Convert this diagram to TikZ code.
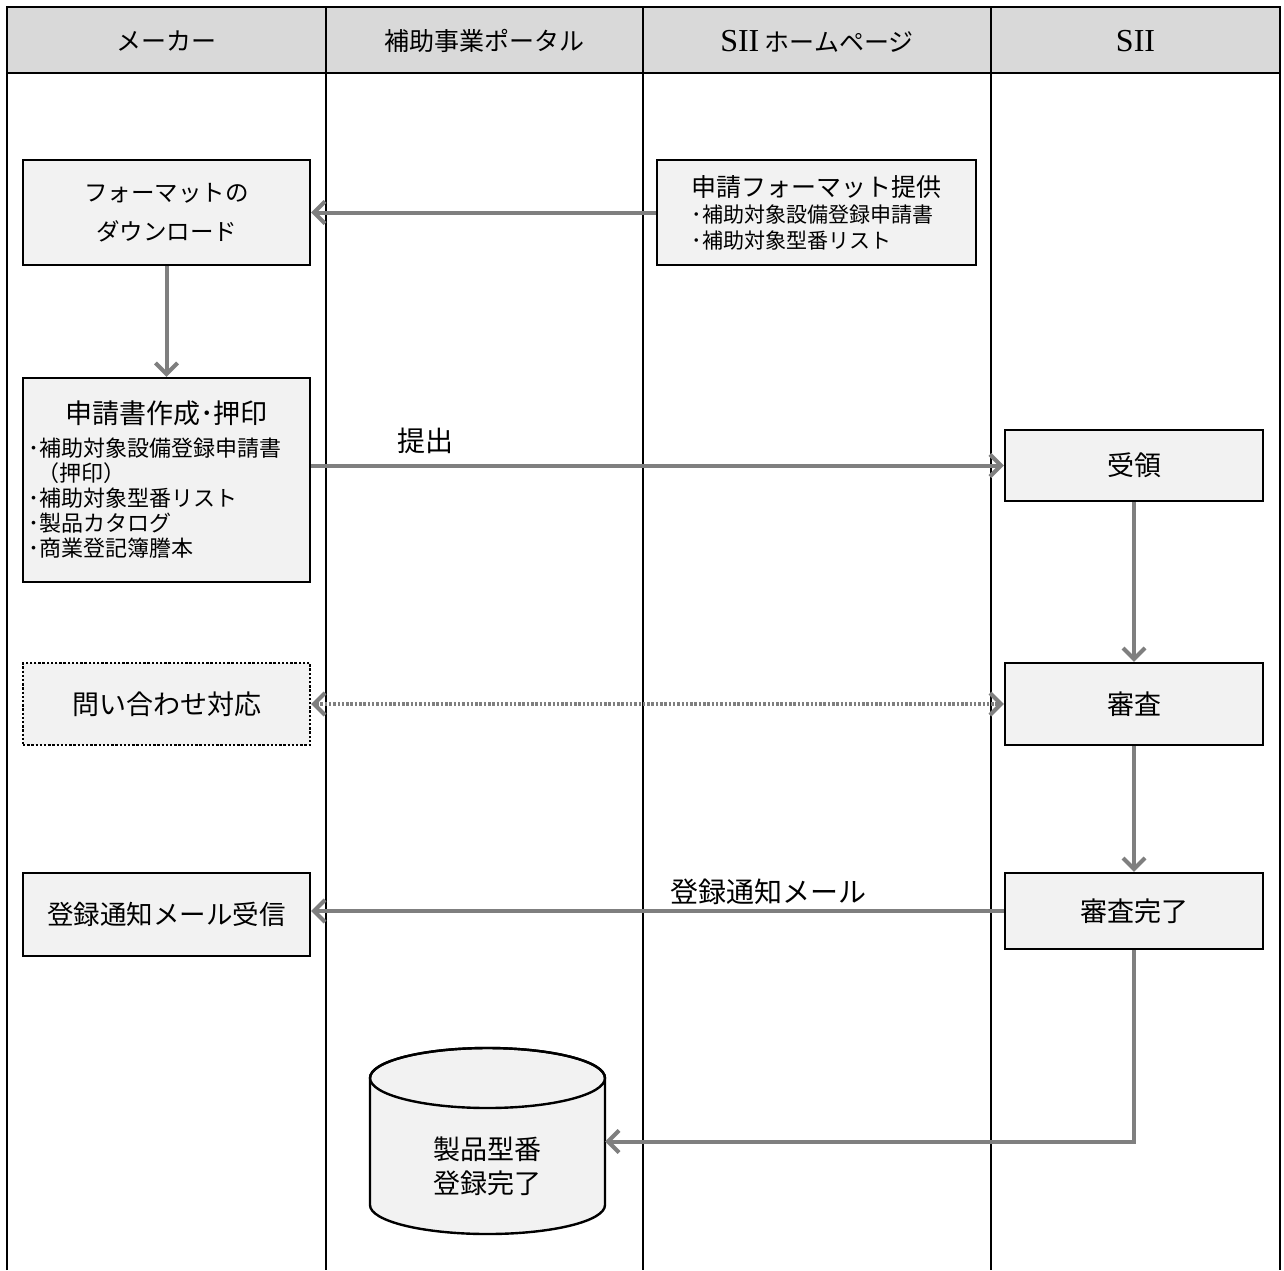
\documentclass[tikz,border=0pt]{standalone}
\usepackage{fontspec}
\setmainfont{Noto Sans CJK JP}
\newfontfamily\latinfont{Liberation Serif}
\usetikzlibrary{arrows.meta}
\definecolor{hdrfill}{HTML}{D9D9D9}
\definecolor{boxfill}{HTML}{F2F2F2}
\definecolor{arrgray}{HTML}{7F7F7F}
\begin{document}
\begin{tikzpicture}[x=1pt,y=-1pt,
  tbl/.style={line width=2.6pt,black},
  hdrtext/.style={font=\fontsize{25}{30}\selectfont},
  procbox/.style={draw=black,line width=2.4pt,fill=boxfill,inner sep=0pt,align=center},
  dotbox/.style={procbox,dash pattern=on 2.4pt off 1.8pt},
  flow/.style={draw=arrgray,line width=4pt,-{Straight Barb[length=11pt,width=22pt]}},
  dotflow/.style={draw=arrgray,line width=4pt,dash pattern=on 2.5pt off 1.8pt,{Straight Barb[length=11pt,width=22pt]}-{Straight Barb[length=11pt,width=22pt]}},
  lbl/.style={font=\fontsize{28}{32}\selectfont,inner sep=0pt}
]
\useasboundingbox (0,0) rectangle (1284,1270);
% table
\fill[hdrfill] (7,7) rectangle (1280,73);
\draw[tbl] (7,1270) -- (7,7) -- (1280,7) -- (1280,1270);
\draw[tbl] (7,73) -- (1280,73);
\draw[tbl] (326,7) -- (326,1270);
\draw[tbl] (643,7) -- (643,1270);
\draw[tbl] (991,7) -- (991,1270);
\node[hdrtext] (h1) at (166.5,41) {メーカー};
\node[hdrtext] (h2) at (484.5,41) {補助事業ポータル};
\node[hdrtext] (h3) at (817,41) {{\latinfont\fontsize{32}{36}\selectfont SII} ホームページ};
\node[hdrtext] (h4) at (1135.5,41) {\latinfont\fontsize{32}{36}\selectfont SII};
% boxes
\node[procbox,minimum width=287pt,minimum height=105pt,font=\fontsize{23.5}{39}\selectfont] (dl) at (166.5,212.5) {フォーマットの\\ダウンロード};
\node[procbox,minimum width=319pt,minimum height=105pt,text width=250pt,align=left] (fmt) at (816.5,212.5)
  {{\fontsize{25}{30}\selectfont 申請フォーマット提供\par}{\fontsize{21}{26}\selectfont ･補助対象設備登録申請書\par ･補助対象型番リスト\par}};
\node[procbox,minimum width=287pt,minimum height=204pt,text width=276pt,align=left] (app) at (166.5,480)
  {{\fontsize{27}{34}\selectfont\makebox[\linewidth][c]{申請書作成･押印}\par}\vspace{8pt}{\fontsize{22}{25}\selectfont ･補助対象設備登録申請書\par \hspace*{9pt}（押印）\par ･補助対象型番リスト\par ･製品カタログ\par ･商業登記簿謄本\par}};
\node[procbox,minimum width=258pt,minimum height=71pt,font=\fontsize{27}{32}\selectfont] (rcv) at (1134,465.5) {受領};
\node[dotbox,minimum width=287pt,minimum height=82pt,font=\fontsize{27}{32}\selectfont] (inq) at (166.5,704) {問い合わせ対応};
\node[procbox,minimum width=258pt,minimum height=82pt,font=\fontsize{27}{32}\selectfont] (rev) at (1134,704) {審査};
\node[procbox,minimum width=287pt,minimum height=83pt,font=\fontsize{26.5}{32}\selectfont] (ntf) at (166.5,914.5) {登録通知メール受信};
\node[procbox,minimum width=258pt,minimum height=76pt,font=\fontsize{27}{32}\selectfont] (done) at (1134,911) {審査完了};
% cylinder
\filldraw[fill=boxfill,draw=black,line width=2.4pt]
  (370,1078) -- (370,1205) arc[start angle=180,end angle=360,x radius=117.5pt,y radius=29pt]
  -- (605,1078) arc[start angle=0,end angle=180,x radius=117.5pt,y radius=30pt] -- cycle;
\draw[black,line width=2.4pt] (487.5,1078) ellipse[x radius=117.5pt,y radius=30pt];
\node[minimum width=235pt,minimum height=187pt,inner sep=0pt] (db) at (487.5,1141.5) {};
\node[align=center,font=\fontsize{27}{34}\selectfont,inner sep=0pt] (dbt) at (487.5,1166) {製品型番\\登録完了};
% connectors
\draw[flow] (fmt.west) -- (dl.east);
\draw[flow] (dl.south) -- (app.north);
\draw[flow] (app.east |- rcv.west) -- node[lbl,pos=0.165,above=10pt] (l1) {提出} (rcv.west);
\draw[dotflow] (inq.east) -- (rev.west);
\draw[flow] (rcv.south) -- (rev.north);
\draw[flow] (rev.south) -- (done.north);
\draw[flow] (done.west) -- node[lbl,pos=0.34,above=4pt] (l2) {登録通知メール} (ntf.east |- done.west);
\draw[flow] (done.south) |- (db.east);
\end{tikzpicture}
\end{document}
